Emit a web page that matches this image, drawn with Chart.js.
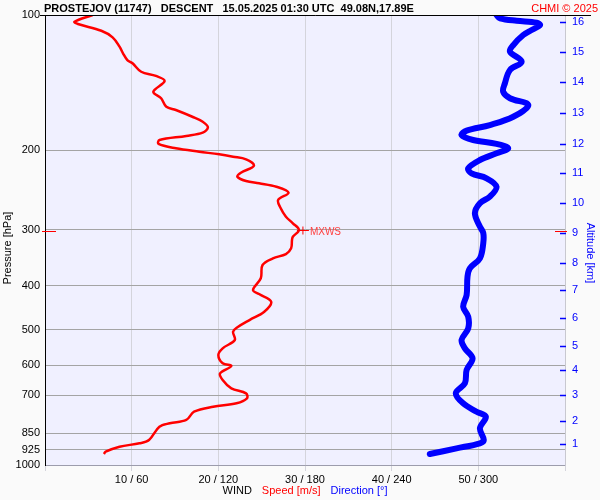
<!DOCTYPE html>
<html lang="en">
<head>
  <meta charset="UTF-8">
  <title>PROSTEJOV wind profile</title>
  <script src="https://cdn.jsdelivr.net/npm/chart.js"></script>
  <style>
    body { margin: 0; background: #fafafa; }
    #wrap { width: 600px; height: 500px; }
  </style>
</head>
<body>
<div id="wrap"><canvas id="chart" width="600" height="500"></canvas></div>

<script>
  // wind speed profile (pressure hPa -> m/s)
  const speedP = [100, 103.5, 104.7, 108.4, 112.1, 117.6, 121.7, 125.9, 128.0, 133.7, 136.6, 140.2, 148.1, 153.1,
    159.9, 162.6, 168.3, 172.6, 177.7, 182.6, 185.7, 189.6, 193.4, 197.8, 201.3, 204.0, 206.5, 209.3, 216.2, 224.1,
    228.8, 233.9, 236.6, 240.8, 248.3, 257.7, 268.9, 280.7, 290.3, 300.4, 311.0, 316.2, 330.0, 339.8, 347.4, 359.4,
    384.7, 408.5, 416.9, 433.7, 456.4, 476.3, 494.4, 505.6, 527.5, 550.5, 569.6, 594.3, 602.6, 625.5, 647.3, 675.5,
    693.0, 711.0, 729.4, 742.1, 761.4, 794.3, 807.8, 822.0, 879.9, 894.9, 910.6, 934.2, 945.5];
  const speedV = [5.5, 3.4, 3.8, 6.5, 7.8, 8.6, 9.0, 9.5, 10.1, 11.1, 12.8, 13.8, 12.5, 13.4,
    14.0, 15.1, 17.0, 18.2, 18.8, 18.2, 16.3, 13.2, 13.1, 15.1, 17.8, 20.1, 21.7, 23.2, 24.1, 22.6,
    22.2, 23.2, 24.7, 26.7, 28.1, 26.9, 27.2, 27.8, 28.6, 29.3, 28.6, 28.5, 28.4, 27.8, 26.3, 25.1,
    24.9, 24.0, 24.7, 26.1, 25.3, 23.6, 22.2, 21.7, 21.9, 20.5, 20.0, 20.5, 21.5, 20.2, 20.5, 21.5,
    23.2, 23.3, 22.1, 19.4, 17.2, 16.3, 14.4, 13.2, 12.0, 10.9, 8.6, 7.0, 6.8];

  // wind direction profile (pressure hPa -> degrees)
  const dirP = [100, 101.7, 103.0, 104.0, 105.3, 108.0, 110.8, 116.6, 120.6, 127.0, 132.5, 141.8, 148.1, 153.1,
    158.5, 168.3, 175.6, 180.7, 184.8, 189.6, 193.4, 197.8, 202.9, 210.0, 219.1, 224.8, 230.6, 240.8, 253.3,
    262.0, 275.9, 295.4, 305.0, 321.7, 347.4, 365.6, 381.6, 419.1, 444.9, 468.3, 497.0, 527.5, 550.5, 579.4,
    615.0, 658.4, 693.0, 729.4, 761.4, 781.0, 828.7, 879.9, 894.9, 918.3, 945.5];
  const dirV = [312.6, 315, 326.5, 340.4, 342.7, 336.9, 331.1, 324.2, 321.9, 330.0, 321.9, 318.4, 317.2, 321.9,
    334.6, 324.2, 308.0, 291.9, 288.4, 296.4, 312.6, 320.7, 312.6, 301.1, 293.0, 295.3, 305.7, 312.6, 308.0,
    301.1, 297.6, 301.1, 303.4, 303.4, 301.1, 294.1, 292.5, 291.9, 289.5, 293.0, 293.0, 288.4, 290.7, 296.0,
    291.9, 290.7, 284.4, 289.5, 298.8, 305.2, 301.1, 303.8, 301.1, 284.9, 266.4];

  // axis ticks
  const pressureTicks = [100, 200, 300, 400, 500, 600, 700, 850, 925, 1000];
  const altKm = [16, 15, 14, 13, 12, 11, 10, 9, 8, 7, 6, 5, 4, 3, 2, 1];
  const altP = [103.8, 120.8, 140.9, 165.1, 193.2, 224.4, 261.6, 305.1, 355.1, 408.5, 471.5, 543.2, 615.0, 698.9, 797.0, 896.6];

  // max wind marker
  const mxwsP = 302;
  const mxwsV = 29.3;

  const FONT = "Arial, 'Liberation Sans', sans-serif";

  const deco = {
    id: 'deco',
    beforeDraw(chart) {
      const { ctx, chartArea: a } = chart;
      ctx.save();
      ctx.fillStyle = '#fafafa';
      ctx.fillRect(0, 0, chart.width, chart.height);
      ctx.fillStyle = '#f0f0ff';
      ctx.fillRect(a.left, a.top, a.right - a.left, a.bottom - a.top);
      ctx.restore();
    },
    afterDraw(chart) {
      const { ctx, chartArea: a, scales } = chart;
      ctx.save();
      // top frame line
      ctx.strokeStyle = '#000';
      ctx.lineWidth = 1;
      ctx.beginPath();
      ctx.moveTo(a.left - 5, a.top + 0.5);
      ctx.lineTo(591, a.top + 0.5);
      ctx.stroke();

      // title
      ctx.fillStyle = '#000';
      ctx.font = 'bold 11px ' + FONT;
      ctx.textBaseline = 'alphabetic';
      ctx.textAlign = 'left';
      ctx.fillText('PROSTEJOV (11747)   DESCENT   15.05.2025 01:30 UTC  49.08N,17.89E', 44, 12);
      ctx.fillStyle = '#ff0000';
      ctx.font = '11px ' + FONT;
      ctx.textAlign = 'right';
      ctx.fillText('CHMI \u00a9 2025', 598, 12);

      // altitude tick marks (inside the right edge)
      ctx.strokeStyle = '#0000ff';
      ctx.lineWidth = 1.5;
      altP.forEach(p => {
        const y = Math.round(scales.y2.getPixelForValue(p)) + 0.5;
        ctx.beginPath();
        ctx.moveTo(a.right - 5, y);
        ctx.lineTo(a.right + 1, y);
        ctx.stroke();
      });

      // MXWS marker
      const my = Math.round(scales.y.getPixelForValue(mxwsP)) + 0.5;
      const mx = scales.x.getPixelForValue(mxwsV);
      ctx.strokeStyle = '#ff0000';
      ctx.lineWidth = 1;
      ctx.beginPath();
      ctx.moveTo(a.left - 3, my); ctx.lineTo(a.left + 11, my);
      ctx.moveTo(a.right - 10, my); ctx.lineTo(a.right + 2, my);
      ctx.moveTo(mx - 2, my - 1); ctx.lineTo(mx + 10, my - 1);
      ctx.moveTo(mx + 4, my - 5); ctx.lineTo(mx + 4, my + 3);
      ctx.stroke();
      ctx.fillStyle = '#ff4040';
      ctx.font = '10px ' + FONT;
      ctx.textAlign = 'left';
      ctx.textBaseline = 'middle';
      ctx.fillText('MXWS', mx + 11, my + 1);

      // axis titles
      ctx.font = '11px ' + FONT;
      ctx.textAlign = 'center';
      ctx.fillStyle = '#000';
      ctx.save();
      ctx.translate(8, 248);
      ctx.rotate(-Math.PI / 2);
      ctx.fillText('Pressure [hPa]', 0, 0);
      ctx.restore();
      ctx.fillStyle = '#0000ff';
      ctx.save();
      ctx.translate(590, 253);
      ctx.rotate(Math.PI / 2);
      ctx.fillText('Altitude [km]', 0, 0);
      ctx.restore();

      // bottom title: WIND Speed [m/s] Direction [°]
      const parts = [['WIND', '#000'], ['Speed [m/s]', '#ff0000'], ['Direction [\u00b0]', '#0000ff']];
      const gap = 10;
      const widths = parts.map(p => ctx.measureText(p[0]).width);
      const total = widths.reduce((s, w) => s + w, 0) + gap * (parts.length - 1);
      let x = (a.left + a.right) / 2 - total / 2;
      ctx.textAlign = 'left';
      parts.forEach((p, i) => {
        ctx.fillStyle = p[1];
        ctx.fillText(p[0], x, 491);
        x += widths[i] + gap;
      });
      ctx.restore();
    }
  };

  new Chart(document.getElementById('chart'), {
    type: 'scatter',
    data: {
      datasets: [
        {
          label: 'Direction',
          data: dirP.map((p, i) => ({ x: dirV[i], y: p })),
          xAxisID: 'xd',
          yAxisID: 'y',
          showLine: true,
          borderColor: '#0000ff',
          borderWidth: 6,
          borderCapStyle: 'round',
          borderJoinStyle: 'round',
          pointRadius: 0,
          tension: 0.35
        },
        {
          label: 'Speed',
          data: speedP.map((p, i) => ({ x: speedV[i], y: p })),
          xAxisID: 'x',
          yAxisID: 'y',
          showLine: true,
          borderColor: '#ff0000',
          borderWidth: 2.5,
          borderJoinStyle: 'round',
          pointRadius: 0,
          tension: 0.35
        }
      ]
    },
    options: {
      responsive: false,
      animation: false,
      layout: { padding: { top: 15, left: 0, right: 0, bottom: 0 } },
      plugins: { legend: { display: false }, tooltip: { enabled: false } },
      scales: {
        x: {
          type: 'linear',
          position: 'bottom',
          min: 0, max: 60,
          afterFit: s => { s.height = 35; },
          ticks: {
            stepSize: 10,
            padding: 2,
            color: '#000',
            font: { size: 11, family: FONT },
            callback: v => (v > 0 && v < 60) ? v + ' / ' + (v * 6) : ''
          },
          grid: { color: '#d4d4dc', tickLength: 6 },
          border: { color: '#9c9cac' }
        },
        xd: {
          type: 'linear',
          position: 'bottom',
          min: 0, max: 360,
          display: false
        },
        y: {
          type: 'logarithmic',
          position: 'left',
          reverse: true,
          min: 100, max: 1000,
          afterFit: s => { s.width = 45; },
          afterBuildTicks: s => { s.ticks = pressureTicks.map(v => ({ value: v })); },
          ticks: {
            padding: 5,
            color: '#000',
            font: { size: 11, family: FONT },
            callback: v => String(v)
          },
          grid: { color: '#a4a4a4', drawTicks: false },
          border: { color: '#000' }
        },
        y2: {
          type: 'logarithmic',
          position: 'right',
          reverse: true,
          min: 100, max: 1000,
          afterFit: s => { s.width = 35; },
          afterBuildTicks: s => { s.ticks = altP.map(v => ({ value: v })); },
          ticks: {
            padding: 7,
            color: '#0000ff',
            font: { size: 11, family: FONT },
            callback: (v, i) => String(altKm[i])
          },
          grid: { drawOnChartArea: false, drawTicks: false },
          border: { color: '#c8c8d0' }
        }
      }
    },
    plugins: [deco]
  });
</script>
</body>
</html>
